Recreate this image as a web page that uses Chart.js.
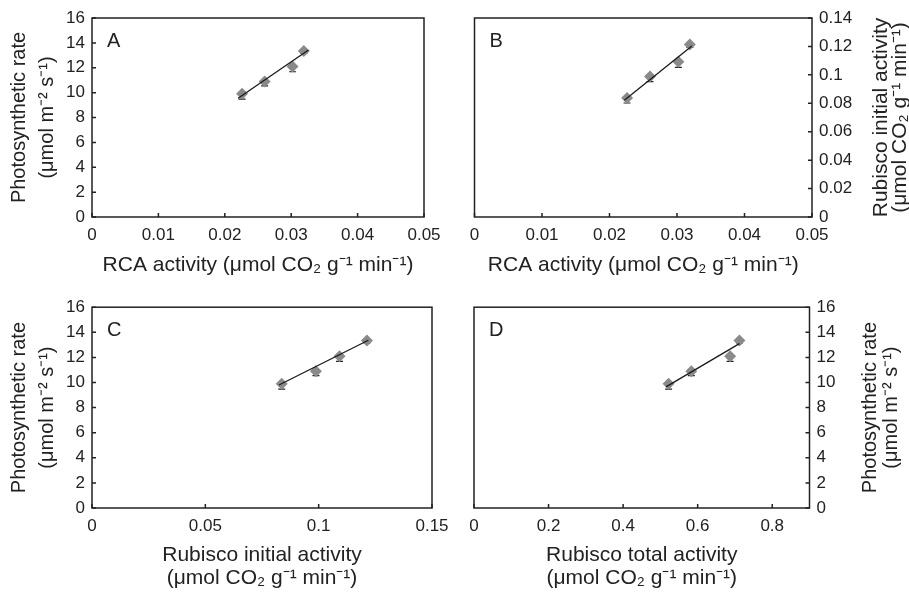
<!DOCTYPE html>
<html>
<head>
<meta charset="utf-8">
<title>Photosynthetic rate vs RCA / Rubisco activity</title>
<script src="https://cdn.jsdelivr.net/npm/chart.js@4.4.1/dist/chart.umd.min.js"></script>
<style>
    html, body { margin: 0; padding: 0; background: #fff; }
    #wrap { position: relative; width: 909px; height: 595px; }
    canvas { position: absolute; }
</style>
</head>
<body>
<div id="wrap">
    <canvas id="cA" width="460" height="290" style="left:0;top:0"></canvas>
    <canvas id="cB" width="449" height="290" style="left:460px;top:0"></canvas>
    <canvas id="cC" width="460" height="305" style="left:0;top:290px"></canvas>
    <canvas id="cD" width="449" height="305" style="left:460px;top:290px"></canvas>
</div>
<script>
// データ
var photoRate = [9.9, 10.9, 12.1, 13.35];          // 光合成速度
var photoRateErr = [0.42, 0.35, 0.42, 0.2];
var rcaActivity = [0.0226, 0.0260, 0.0302, 0.0319];  // RCA 活性
var rubiscoInitial = [0.0837, 0.0988, 0.1092, 0.1213];
var rubiscoInitialErr = [0.0035, 0.0035, 0.004, 0.002];
var rubiscoTotal = [0.522, 0.583, 0.687, 0.712];

// 回帰直線の両端
var fitAX = [0.0220, 0.0326], fitAY = [9.55, 13.43];
var fitBX = [0.0222, 0.0322], fitBY = [0.0822, 0.1203];
var fitCX = [0.0825, 0.1219], fitCY = [9.8, 13.37];
var fitDX = [0.515, 0.712], fitDY = [9.65, 13.1];

// 目盛り
var rcaTicks = [0, 0.01, 0.02, 0.03, 0.04, 0.05];
var photoTicks = [0, 2, 4, 6, 8, 10, 12, 14, 16];
var initialTicksB = [0, 0.02, 0.04, 0.06, 0.08, 0.1, 0.12, 0.14];
var initialTicksC = [0, 0.05, 0.1, 0.15];
var totalTicks = [0, 0.2, 0.4, 0.6, 0.8];

var photoTitle = ['Photosynthetic rate', '(\u03bcmol m\u207b\u00b2 s\u207b\u00b9)'];
var unitTitle = '(\u03bcmol CO\u2082 g\u207b\u00b9 min\u207b\u00b9)';

Chart.defaults.font.family = '"Liberation Sans", Arial, Helvetica, sans-serif';
Chart.defaults.color = '#222';

function toPoints(xs, ys) {
    var pts = [];
    for (var i = 0; i < xs.length; i++) {
        pts.push({ x: xs[i], y: ys[i] });
    }
    return pts;
}

function fmt(v) {
    return String(Math.round(v * 1000) / 1000);
}

// エラーバー (マイナス側のみ)
var errorBars = {
    id: 'errorBars',
    beforeDatasetsDraw: function (chart) {
        var c = chart.ctx, sx = chart.scales.x, sy = chart.scales.y;
        c.save();
        c.strokeStyle = '#222';
        c.lineWidth = 1.2;
        chart.data.datasets.forEach(function (ds) {
            if (!ds.errMinus) return;
            ds.data.forEach(function (pt, i) {
                var px = sx.getPixelForValue(pt.x);
                var y0 = sy.getPixelForValue(pt.y);
                var y1 = sy.getPixelForValue(pt.y - ds.errMinus[i]);
                c.beginPath();
                c.moveTo(px, y0);
                c.lineTo(px, y1);
                c.moveTo(px - 3.5, y1);
                c.lineTo(px + 3.5, y1);
                c.stroke();
            });
        });
        c.restore();
    }
};

// 枠と内向きの目盛り線
var frame = {
    id: 'frame',
    afterDatasetsDraw: function (chart) {
        var c = chart.ctx, a = chart.chartArea, sx = chart.scales.x, sy = chart.scales.y;
        c.save();
        c.strokeStyle = '#222';
        c.lineWidth = 1.5;
        c.strokeRect(a.left, a.top, a.right - a.left, a.bottom - a.top);
        c.beginPath();
        sx.ticks.forEach(function (t) {
            var px = sx.getPixelForValue(t.value);
            c.moveTo(px, a.bottom);
            c.lineTo(px, a.bottom - 4);
        });
        var onRight = sy.options.position === 'right';
        sy.ticks.forEach(function (t) {
            var py = sy.getPixelForValue(t.value);
            var x0 = onRight ? a.right : a.left;
            c.moveTo(x0, py);
            c.lineTo(onRight ? x0 - 4 : x0 + 4, py);
        });
        c.stroke();
        c.restore();
    }
};

// パネル記号と右側の軸タイトル
var panelText = {
    id: 'panelText',
    afterDraw: function (chart) {
        var o = chart.options.plugins.panelText;
        var c = chart.ctx, a = chart.chartArea;
        c.save();
        c.fillStyle = '#222';
        c.font = '20px "Liberation Sans", Arial, sans-serif';
        c.textBaseline = 'alphabetic';
        c.fillText(o.letter, a.left + 15, a.top + 29);
        if (o.right) {
            c.font = o.rightSize + 'px "Liberation Sans", Arial, sans-serif';
            c.textAlign = 'center';
            c.textBaseline = 'middle';
            o.right.forEach(function (line, i) {
                c.save();
                c.translate(a.right + o.rightX[i], (a.top + a.bottom) / 2);
                c.rotate(-Math.PI / 2);
                c.fillText(line, 0, 0);
                c.restore();
            });
        }
        c.restore();
    }
};

function makePanel(id, p) {
    var ctx = document.getElementById(id).getContext('2d');
    var leftTitle = p.yPos === 'left';
    return new Chart(ctx, {
        type: 'scatter',
        data: {
            datasets: [{
                data: toPoints(p.fitX, p.fitY),
                showLine: true,
                borderColor: '#1a1a1a',
                borderWidth: 1.3,
                pointRadius: 0
            }, {
                data: toPoints(p.xs, p.ys),
                errMinus: p.err,
                pointStyle: 'rectRot',
                pointRadius: 6,
                backgroundColor: '#8a8a8a',
                borderColor: '#8a8a8a',
                borderWidth: 0
            }]
        },
        options: {
            responsive: false,
            animation: false,
            events: [],
            layout: { padding: p.pad },
            plugins: {
                legend: { display: false },
                tooltip: { enabled: false },
                panelText: { letter: p.letter, right: p.rightTitle, rightX: p.rightX, rightSize: p.rightSize }
            },
            scales: {
                x: {
                    type: 'linear',
                    min: p.xMin,
                    max: p.xMax,
                    afterBuildTicks: function (s) {
                        s.ticks = p.xTicks.map(function (v) { return { value: v }; });
                    },
                    afterFit: function (s) { s.height = p.xH; },
                    grid: { display: false, drawTicks: false },
                    border: { display: false },
                    ticks: { padding: 8, font: { size: 17 }, color: '#222', callback: fmt, maxRotation: 0, autoSkip: false },
                    title: {
                        display: true,
                        text: p.xTitle,
                        color: '#222',
                        font: { size: 21, lineHeight: 23 / 21 },
                        padding: { top: 0, bottom: p.xTitlePad }
                    }
                },
                y: {
                    type: 'linear',
                    position: p.yPos,
                    min: p.yMin,
                    max: p.yMax,
                    afterBuildTicks: function (s) {
                        s.ticks = p.yTicks.map(function (v) { return { value: v }; });
                    },
                    afterFit: function (s) { s.width = p.yW; },
                    grid: { display: false, drawTicks: false },
                    border: { display: false },
                    ticks: { padding: 7, font: { size: 17 }, color: '#222', callback: fmt, autoSkip: false },
                    title: {
                        display: leftTitle,
                        text: photoTitle,
                        color: '#222',
                        font: { size: 20, lineHeight: 1.375 },
                        padding: { top: 6, bottom: 0 }
                    }
                }
            }
        },
        plugins: [errorBars, frame, panelText]
    });
}

makePanel('cA', {
    letter: 'A', xs: rcaActivity, ys: photoRate, err: photoRateErr, fitX: fitAX, fitY: fitAY,
    xMin: 0, xMax: 0.05, xTicks: rcaTicks, yMin: 0, yMax: 16, yTicks: photoTicks,
    yPos: 'left', yW: 92, xH: 73, xTitlePad: 13.5,
    pad: { left: 0, top: 18, right: 36, bottom: 0 },
    xTitle: 'RCA activity ' + unitTitle
});

makePanel('cB', {
    letter: 'B', xs: rcaActivity, ys: rubiscoInitial, err: rubiscoInitialErr, fitX: fitBX, fitY: fitBY,
    xMin: 0, xMax: 0.05, xTicks: rcaTicks, yMin: 0, yMax: 0.14, yTicks: initialTicksB,
    yPos: 'right', yW: 97, xH: 73, xTitlePad: 13.5,
    pad: { left: 14.5, top: 18, right: 0, bottom: 0 },
    xTitle: 'RCA activity ' + unitTitle,
    rightTitle: ['Rubisco initial activity', unitTitle], rightX: [69, 88.5], rightSize: 21
});

makePanel('cC', {
    letter: 'C', xs: rubiscoInitial, ys: photoRate, err: photoRateErr, fitX: fitCX, fitY: fitCY,
    xMin: 0, xMax: 0.15, xTicks: initialTicksC, yMin: 0, yMax: 16, yTicks: photoTicks,
    yPos: 'left', yW: 92, xH: 87, xTitlePad: 5.5,
    pad: { left: 0, top: 14, right: 28, bottom: 0 },
    xTitle: ['Rubisco initial activity', unitTitle]
});

makePanel('cD', {
    letter: 'D', xs: rubiscoTotal, ys: photoRate, err: photoRateErr, fitX: fitDX, fitY: fitDY,
    xMin: 0, xMax: 0.9, xTicks: totalTicks, yMin: 0, yMax: 16, yTicks: photoTicks,
    yPos: 'right', yW: 99.5, xH: 87, xTitlePad: 5.5,
    pad: { left: 14, top: 14, right: 0, bottom: 0 },
    xTitle: ['Rubisco total activity', unitTitle],
    rightTitle: photoTitle, rightX: [60.5, 81.5], rightSize: 20
});
</script>
</body>
</html>
